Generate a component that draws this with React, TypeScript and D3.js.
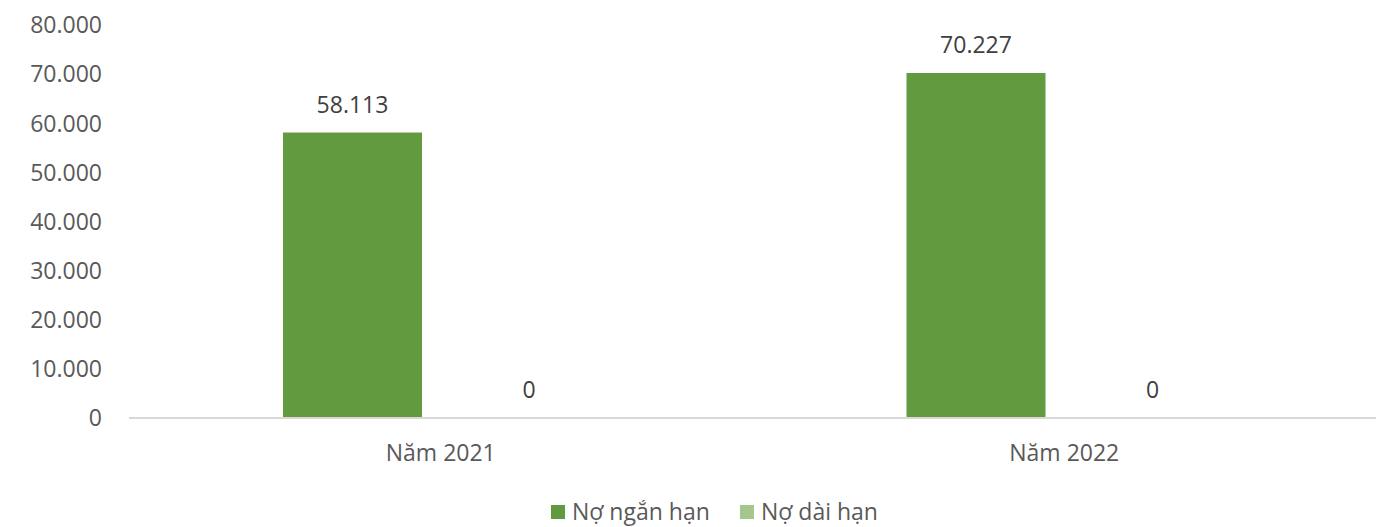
import * as d3 from "d3";

// ── Data ────────────────────────────────────────────────────────────────────
const categories = ["Năm 2021", "Năm 2022"];
const seriesNames = ["Nợ ngắn hạn", "Nợ dài hạn"];
const shortTerm = [58113, 70227];
const longTerm = [0, 0];
const yTicks = [0, 10000, 20000, 30000, 40000, 50000, 60000, 70000, 80000];

const colors = ["#629b3f", "#a3c78c"];
const W = 1383;
const H = 527;
const FONT = "'Open Sans', sans-serif";

// Vietnamese style thousands: 58.113
const fmt = (v: number) => d3.format(",")(v).replace(/,/g, ".");

export default function App() {
  const margin = { left: 129, right: 7, top: 25, bottom: 109 };
  const x0 = d3
    .scaleBand<string>()
    .domain(categories)
    .range([margin.left, W - margin.right])
    .padding(0);
  const x1 = d3
    .scaleBand<string>()
    .domain(seriesNames)
    .range([0, x0.bandwidth()])
    .paddingInner(0.2125)
    .paddingOuter(0.8725);
  const y = d3.scaleLinear().domain([0, 80000]).range([H - margin.bottom, margin.top]);

  const values = [shortTerm, longTerm];

  return (
    <svg
      width={W}
      height={H}
      style={{ position: "absolute", left: 0, top: 0, background: "#fff" }}
      fontFamily={FONT}
    >
      {/* y tick labels */}
      {yTicks.map((t) => (
        <text
          key={t}
          x={102}
          y={y(t)}
          dy="0.36em"
          textAnchor="end"
          fontSize={23}
          fill="#595959"
        >
          {fmt(t)}
        </text>
      ))}

      {/* bars */}
      {categories.map((c, ci) =>
        seriesNames.map((s, si) => {
          const v = values[si][ci];
          const bx = (x0(c) ?? 0) + (x1(s) ?? 0);
          return (
            <g key={c + s}>
              {v > 0 && (
                <rect
                  x={bx}
                  y={y(v)}
                  width={x1.bandwidth()}
                  height={y(0) - y(v)}
                  fill={colors[si]}
                />
              )}
              <text
                x={bx + x1.bandwidth() / 2}
                y={y(v) - 20}
                textAnchor="middle"
                fontSize={23}
                fill="#404040"
              >
                {fmt(v)}
              </text>
            </g>
          );
        })
      )}

      {/* baseline */}
      <line
        x1={margin.left}
        x2={W - margin.right}
        y1={y(0)}
        y2={y(0)}
        stroke="#d9d9d9"
        strokeWidth={2}
      />

      {/* category labels */}
      {categories.map((c) => (
        <text
          key={c}
          x={(x0(c) ?? 0) + x0.bandwidth() / 2}
          y={461}
          textAnchor="middle"
          fontSize={23}
          fill="#595959"
        >
          {c}
        </text>
      ))}

      {/* legend */}
      {seriesNames.map((s, i) => {
        const lx = i === 0 ? 551 : 740;
        return (
          <g key={s}>
            <rect x={lx} y={505} width={14} height={14} fill={colors[i]} />
            <text x={lx + 21} y={520} fontSize={23} fill="#595959">
              {s}
            </text>
          </g>
        );
      })}
    </svg>
  );
}
